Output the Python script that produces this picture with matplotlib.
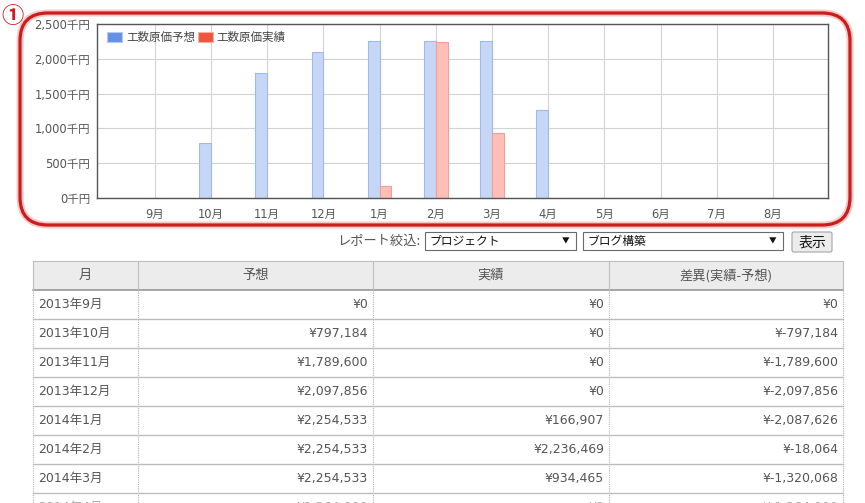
import numpy as np
import matplotlib.pyplot as plt
from matplotlib.patches import FancyBboxPatch, Rectangle

plt.rcParams['font.family'] = ['DejaVu Sans', 'Noto Sans CJK JP']

# chart data (yen)
months = ['9月', '10月', '11月', '12月', '1月', '2月', '3月', '4月', '5月', '6月', '7月', '8月']
forecast = [0, 797184, 1789600, 2097856, 2254533, 2254533, 2254533, 1264000, 0, 0, 0, 0]
actual = [0, 0, 0, 0, 166907, 2236469, 934465, 0, 0, 0, 0, 0]
legend_labels = ['工数原価予想', '工数原価実績']
yticks = [0, 500, 1000, 1500, 2000, 2500]

# table data
row_labels = ['2013年9月', '2013年10月', '2013年11月', '2013年12月',
              '2014年1月', '2014年2月', '2014年3月', '2014年4月']
header = ['月', '予想', '実績', '差異(実績-予想)']

# filter row
filter_label = 'レポート絞込:'
select_items = ['プロジェクト', 'ブログ構築']
button_label = '表示'

W, H = 865, 503
fig = plt.figure(figsize=(W / 100, H / 100), dpi=100)

# overlay in pixel coordinates
ov = fig.add_axes([0, 0, 1, 1])
ov.set_xlim(0, W)
ov.set_ylim(H, 0)
ov.axis('off')

# ---- chart ----
ax = fig.add_axes([97 / W, 1 - 198 / H, (828 - 97) / W, (198 - 24) / H])
x = np.arange(len(months))
bw = 0.21
ax.bar(x - bw / 2, np.array(forecast) / 1000, bw, color='#c6d6f6', edgecolor='#a2b8e8', lw=0.8)
ax.bar(x + bw / 2, np.array(actual) / 1000, bw, color='#ffbfb7', edgecolor='#f0a096', lw=0.8)
ax.set_xlim(-1.03, 11.98)
ax.set_ylim(0, 2500)
ax.set_xticks(x, months)
ax.set_yticks(yticks, [f'{v:,}千円' for v in yticks])
ax.tick_params(length=0, labelsize=8.3, labelcolor='#555555')
ax.tick_params(axis='x', pad=7)
ax.tick_params(axis='y', pad=5)
ax.grid(color='#d2d2d2', lw=0.8)
ax.set_axisbelow(True)
for s in ax.spines.values():
    s.set_color('#555555')
    s.set_linewidth(1)

handles = [Rectangle((0, 0), 1, 1, fc='#6490e6', ec='#b8c8ee', lw=0.8),
           Rectangle((0, 0), 1, 1, fc='#f0563e', ec='#f5b0a6', lw=0.8)]
ax.legend(handles, legend_labels, loc='upper left', bbox_to_anchor=(0.008, 0.985),
          frameon=False, ncol=2, fontsize=8.3, handlelength=1.3, handleheight=0.9,
          handletextpad=0.3, columnspacing=0.3, borderaxespad=0, labelcolor='#444444')

# ---- red annotation frame ----
ov.add_patch(FancyBboxPatch((20, 13), 830, 212, boxstyle='round,pad=0,rounding_size=28',
                            fill=False, ec='#f6c8c8', lw=5))
ov.add_patch(FancyBboxPatch((20, 13), 830, 212, boxstyle='round,pad=0,rounding_size=28',
                            fill=False, ec='#cc1c1c', lw=2.3))
ov.text(12, 16, '①', color='#d01e1e', fontsize=16, fontweight='bold', ha='center',
        va='center', family=['Noto Sans CJK JP', 'DejaVu Sans'])

# ---- filter row ----
ov.text(420, 241, filter_label, ha='right', va='center', fontsize=9.5, color='#555555',
        family=['Noto Sans CJK JP', 'DejaVu Sans'])
for (x0, x1), item in zip([(425, 576), (583, 783)], select_items):
    ov.add_patch(Rectangle((x0, 232), x1 - x0, 18, fc='white', ec='#6a6a6a', lw=0.8))
    ov.text(x0 + 4, 241, item, ha='left', va='center', fontsize=8.5, color='#111111',
            family=['Noto Sans CJK JP', 'DejaVu Sans'])
    ov.text(x1 - 10, 241, '▼', ha='center', va='center', fontsize=5.5, color='#111111',
            family=['Noto Sans CJK JP', 'DejaVu Sans'])
ov.add_patch(FancyBboxPatch((792, 232), 40, 20, boxstyle='round,pad=0,rounding_size=2',
                            fc='#ececec', ec='#a5a5a5', lw=0.8))
ov.text(812, 242.5, button_label, ha='center', va='center', fontsize=10, color='#111111',
        family=['Noto Sans CJK JP', 'DejaVu Sans'])

# ---- table ----
cols = [33, 138, 373, 609, 843]
top, head_h, row_h = 261, 29, 29
ov.add_patch(Rectangle((cols[0], top), cols[-1] - cols[0], head_h, fc='#ececec', ec='none'))
ov.plot([cols[0], cols[-1]], [top, top], color='#bdbdbd', lw=0.8)
ov.plot([cols[0], cols[-1]], [top + head_h, top + head_h], color='#8f8f8f', lw=1.1)
for cx in cols:
    ov.plot([cx, cx], [top, top + head_h], color='#bdbdbd', lw=0.8)
    ov.plot([cx, cx], [top + head_h, H], color='#b5b5b5', lw=0.8, ls=(0, (1, 1)))
for j, h in enumerate(header):
    ov.text((cols[j] + cols[j + 1]) / 2, top + head_h / 2, h, ha='center', va='center',
            fontsize=9.5, color='#555555', family=['Noto Sans CJK JP', 'DejaVu Sans'])

for i, lab in enumerate(row_labels):
    y0 = top + head_h + i * row_h
    yc = y0 + row_h / 2
    diff = actual[i] - forecast[i]
    cells = [f'¥{forecast[i]:,}', f'¥{actual[i]:,}', f'¥{diff:,}']
    tc = '#555555' if i < len(row_labels) - 1 else '#aaaaaa'
    ov.text(cols[0] + 5, yc, lab, ha='left', va='center', fontsize=9, color=tc)
    for j, c in enumerate(cells):
        ov.text(cols[j + 2] - 5, yc, c, ha='right', va='center', fontsize=9, color=tc)
    if y0 + row_h < H:
        ov.plot([cols[0], cols[-1]], [y0 + row_h, y0 + row_h], color='#bdbdbd', lw=1)

fig.savefig('out.png', dpi=100)
